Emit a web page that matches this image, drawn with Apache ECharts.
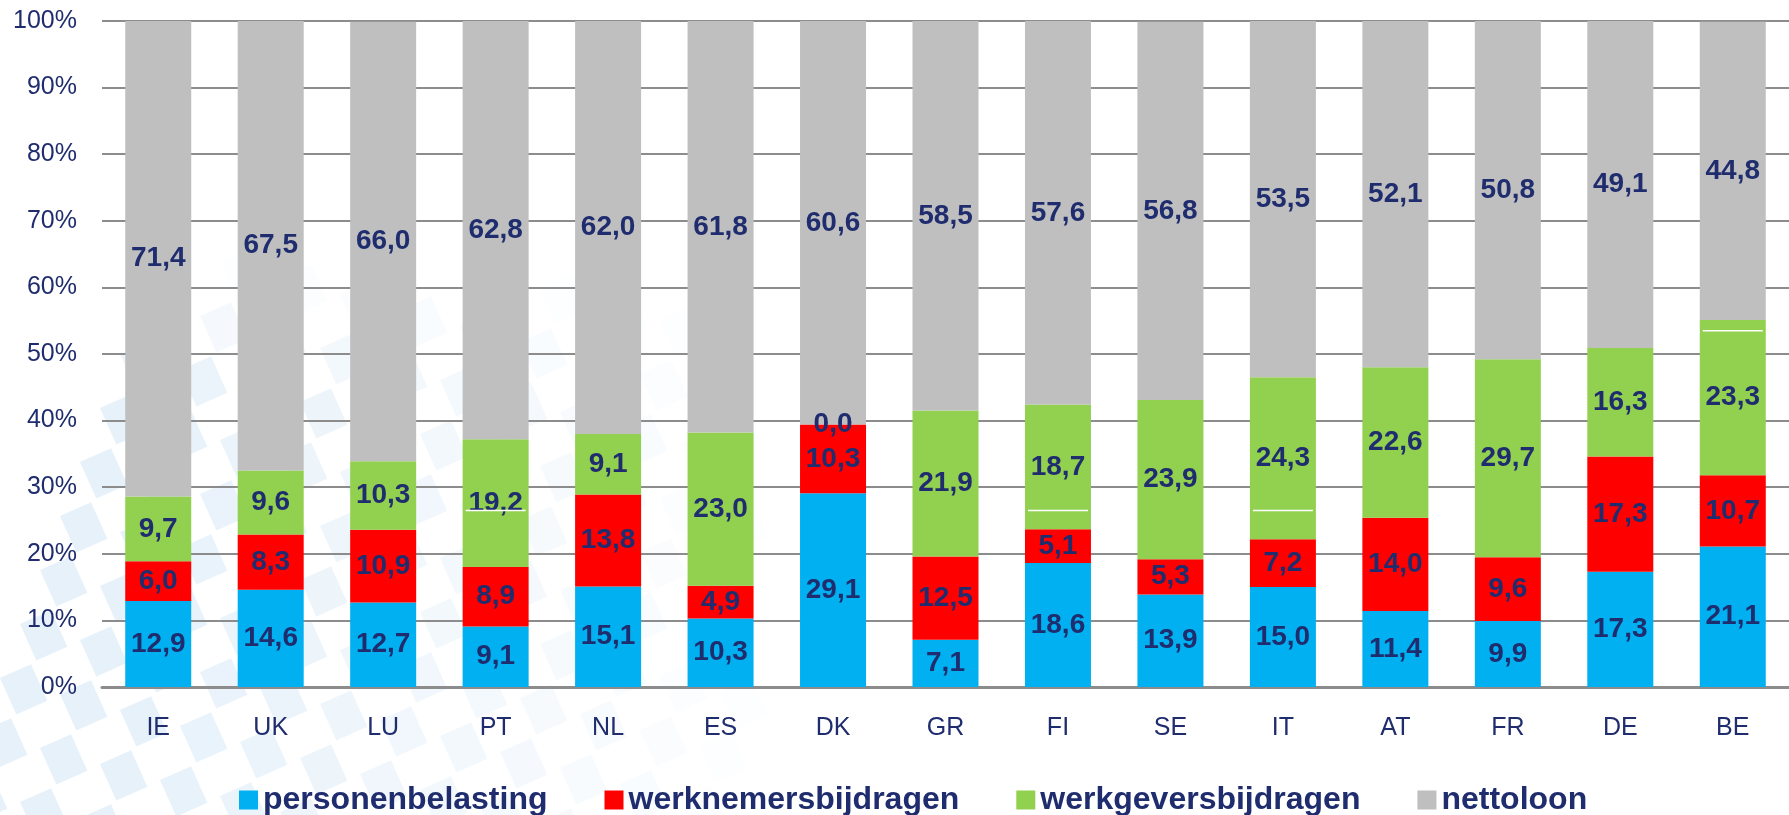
<!DOCTYPE html>
<html>
<head>
<meta charset="utf-8">
<title>Loonwig</title>
<script src="https://cdn.jsdelivr.net/npm/echarts@6/dist/echarts.min.js"></script>
<style>
  html, body { margin: 0; padding: 0; background: #ffffff; }
  #main { width: 1789px; height: 815px; }
</style>
</head>
<body>
<div id="main"></div>
<script>
// landen
const countries = ['IE', 'UK', 'LU', 'PT', 'NL', 'ES', 'DK', 'GR', 'FI', 'SE', 'IT', 'AT', 'FR', 'DE', 'BE'];
// aandelen in % van de loonkost
const personenbelasting = [12.9, 14.6, 12.7, 9.1, 15.1, 10.3, 29.1, 7.1, 18.6, 13.9, 15.0, 11.4, 9.9, 17.3, 21.1];
const werknemersbijdragen = [6.0, 8.3, 10.9, 8.9, 13.8, 4.9, 10.3, 12.5, 5.1, 5.3, 7.2, 14.0, 9.6, 17.3, 10.7];
const werkgeversbijdragen = [9.7, 9.6, 10.3, 19.2, 9.1, 23.0, 0.0, 21.9, 18.7, 23.9, 24.3, 22.6, 29.7, 16.3, 23.3];
const nettoloon = [71.4, 67.5, 66.0, 62.8, 62.0, 61.8, 60.6, 58.5, 57.6, 56.8, 53.5, 52.1, 50.8, 49.1, 44.8];
// dunne witte streepjes in enkele groene staven (land, hoogte in %)
const witteLijnLand = ['PT', 'FI', 'IT', 'BE'];
const witteLijnHoogte = [26.5, 26.5, 26.5, 53.5];

const textColor = '#1F2C6E';
const colorList = ['#00B0F0', '#FF0000', '#92D050', '#BFBFBF'];
const fontFamily = 'Liberation Sans, Arial, sans-serif';

// decoratief achtergrondpatroon links onderaan
function backgroundTiles() {
  let tiles = [];
  for (let r = 0; r < 16; r++) {
    for (let c = 0; c < 16; c++) {
      let x = -60 + c * 60 + r * 20;
      let y = 840 - r * 54 + c * 16;
      if (x > 760 || y < 250) continue;
      let fade = Math.max(0, 1 - Math.max(0, x - 120) / 640) * Math.min(1, (y - 250) / 140);
      if (fade <= 0.05) continue;
      tiles.push({
        type: 'rect',
        x: x,
        y: y,
        rotation: 0.42,
        z: -10,
        silent: true,
        shape: { x: 0, y: 0, width: 34, height: 40 },
        style: { fill: 'rgba(216,233,247,' + (0.62 * fade).toFixed(2) + ')' }
      });
    }
  }
  return tiles;
}

const myChart = echarts.init(document.getElementById('main'));

const names = ['personenbelasting', 'werknemersbijdragen', 'werkgeversbijdragen', 'nettoloon'];
const values = [personenbelasting, werknemersbijdragen, werkgeversbijdragen, nettoloon];
let seriesArr = [];
names.forEach((item, index) => {
  seriesArr.push({
    name: item,
    type: 'bar',
    stack: 'Total',
    barWidth: 66,
    itemStyle: { color: colorList[index] },
    label: {
      show: true,
      position: 'inside',
      color: textColor,
      fontFamily: fontFamily,
      fontWeight: 'bold',
      fontSize: 28,
      formatter: p => p.value.toFixed(1).replace('.', ',')
    },
    data: values[index]
  });
});

const option = {
  backgroundColor: '#ffffff',
  animation: false,
  graphic: { elements: backgroundTiles() },
  textStyle: { fontFamily: fontFamily },
  legend: {
    data: names,
    left: 234,
    top: 779,
    itemWidth: 19,
    itemHeight: 19,
    itemGap: 57,
    icon: 'rect',
    textStyle: {
      color: textColor,
      fontSize: 32,
      fontWeight: 'bold',
      fontFamily: fontFamily
    }
  },
  grid: {
    left: 102,
    width: 1695,
    top: 21,
    bottom: 128,
    containLabel: false
  },
  xAxis: {
    type: 'category',
    data: countries,
    axisTick: { show: false },
    axisLine: { show: true, lineStyle: { color: '#8C8C8C', width: 3 } },
    axisLabel: {
      color: textColor,
      fontSize: 25,
      margin: 29
    }
  },
  yAxis: {
    type: 'value',
    min: 0,
    max: 100,
    interval: 10,
    axisLabel: {
      color: textColor,
      fontSize: 25,
      margin: 25,
      formatter: '{value}%'
    },
    splitLine: {
      show: true,
      lineStyle: { color: '#8C8C8C', width: 2 }
    },
    axisTick: { show: false },
    axisLine: { show: false }
  },
  series: [...seriesArr]
};
option && myChart.setOption(option);

// witte streepjes via de schaal van de grafiek plaatsen
let streepjes = option.graphic.elements.slice();
witteLijnLand.forEach((land, i) => {
  let p = myChart.convertToPixel({ gridIndex: 0 }, [land, witteLijnHoogte[i]]);
  streepjes.push({
    type: 'line',
    z: 100,
    silent: true,
    shape: { x1: p[0] - 30, y1: p[1], x2: p[0] + 30, y2: p[1] },
    style: { stroke: '#ffffff', lineWidth: 1.5 }
  });
});
myChart.setOption({ graphic: { elements: streepjes } });

window.addEventListener('resize', () => {
  if (myChart) {
    myChart.resize();
  }
});
</script>
</body>
</html>
